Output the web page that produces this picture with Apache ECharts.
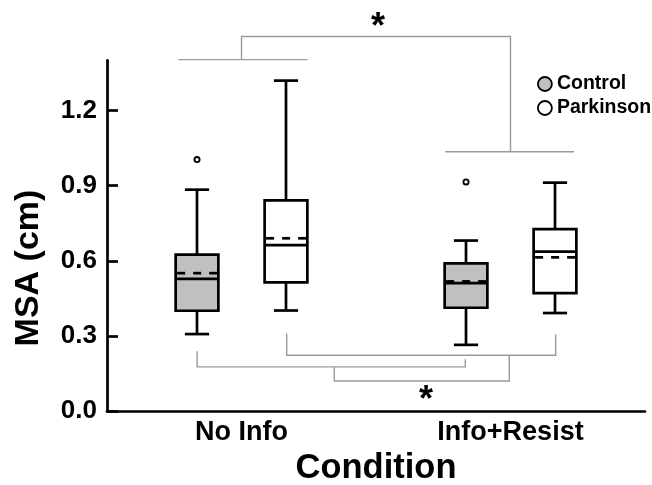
<!DOCTYPE html>
<html>
<head>
<meta charset="utf-8">
<script src="https://cdn.jsdelivr.net/npm/echarts@6/dist/echarts.min.js"></script>
<style>
html,body{margin:0;padding:0;background:#fff;}
#chart{width:652px;height:485px;}
</style>
</head>
<body>
<div id="chart"></div>
<script>
// ---- data ----
const categories = ['No Info', 'Info+Resist'];
const groupNames = ['Control', 'Parkinson'];
const yTicks = [0, 0.3, 0.6, 0.9, 1.2];
// each row: [lowerWhisker, q1, median, q3, upperWhisker, mean]
const controlStats = [
  [0.308, 0.401, 0.528, 0.625, 0.884, 0.551],
  [0.265, 0.413, 0.511, 0.590, 0.681, 0.518]
];
const parkinsonStats = [
  [0.402, 0.514, 0.663, 0.841, 1.319, 0.690],
  [0.392, 0.471, 0.637, 0.727, 0.912, 0.614]
];
const controlOutliers = [1.004, 0.915];
const parkinsonOutliers = [null, null];

// ---- chart ----
const FONT = "'Liberation Sans', Arial, sans-serif";
const chart = echarts.init(document.getElementById('chart'), null, {renderer: 'canvas'});

function boxRender(offset, fill, outliers) {
  return function (params, api) {
    const cat = api.value(0);
    const band = api.size([1, 0])[0];
    const cx = api.coord([cat, 0])[0] + offset * band;
    const hw = 0.0794 * band;
    const cw = 0.045 * band;
    const y = v => api.coord([cat, v])[1];
    const lw = y(api.value(1)), q1 = y(api.value(2)), med = y(api.value(3)),
          q3 = y(api.value(4)), uw = y(api.value(5)), mean = y(api.value(6));
    const line = {stroke: '#000', lineWidth: 2.7};
    const children = [
      {type: 'line', shape: {x1: cx, y1: q3, x2: cx, y2: uw}, style: line},
      {type: 'line', shape: {x1: cx, y1: q1, x2: cx, y2: lw}, style: line},
      {type: 'line', shape: {x1: cx - cw, y1: uw, x2: cx + cw, y2: uw}, style: line},
      {type: 'line', shape: {x1: cx - cw, y1: lw, x2: cx + cw, y2: lw}, style: line},
      {type: 'rect', shape: {x: cx - hw, y: q3, width: 2 * hw, height: q1 - q3},
        style: {fill: fill, stroke: '#000', lineWidth: 2.7}},
      {type: 'line', shape: {x1: cx - hw, y1: med, x2: cx + hw, y2: med}, style: line},
      {type: 'line', shape: {x1: cx - hw + 1.5, y1: mean, x2: cx + hw, y2: mean},
        style: {stroke: '#000', lineWidth: 2.7, lineDash: [8, 8]}}
    ];
    const o = outliers[params.dataIndex];
    if (o != null) {
      children.push({type: 'circle', shape: {cx: cx, cy: y(o), r: 2.6},
        style: {fill: '#fff', stroke: '#000', lineWidth: 1.8}});
    }
    return {type: 'group', children: children};
  };
}

function statsToData(stats) {
  return stats.map((s, i) => [i].concat(s));
}

function bracketRender(params, api) {
  const band = api.size([1, 0])[0];
  const px = (cat, f) => api.coord([cat, 0])[0] + f * band;
  const py = v => api.coord([0, v])[1];
  const st = {stroke: '#9a9a9a', lineWidth: 1.4, fill: null};
  const poly = pts => ({type: 'polyline', shape: {points: pts}, style: st});
  const star = (x, y) => ({type: 'text', x: x, y: y,
    style: {text: '*', font: 'bold 36px ' + FONT, fill: '#000', align: 'center', verticalAlign: 'middle'}});
  return {type: 'group', children: [
    // top: Condition comparison
    poly([[px(0, -0.235), py(1.4025)], [px(0, 0.245), py(1.4025)]]),
    poly([[px(0, 0), py(1.4025)], [px(0, 0), py(1.495)], [px(1, 0), py(1.495)], [px(1, 0), py(1.035)]]),
    poly([[px(1, -0.243), py(1.035)], [px(1, 0.236), py(1.035)]]),
    star(px(0, 0.507), py(1.53)),
    // bottom: Group comparison
    poly([[px(0, -0.165), py(0.2396)], [px(0, -0.165), py(0.177)], [px(1, -0.168), py(0.177)], [px(1, -0.168), py(0.208)]]),
    poly([[px(0, 0.168), py(0.310)], [px(0, 0.168), py(0.2237)], [px(1, 0.168), py(0.2237)], [px(1, 0.168), py(0.306)]]),
    poly([[px(0, 0.345), py(0.177)], [px(0, 0.345), py(0.1207)], [px(1, -0.0045), py(0.1207)], [px(1, -0.0045), py(0.2237)]]),
    star(px(0, 0.686), py(0.04))
  ]};
}

const option = {
  animation: false,
  backgroundColor: '#fff',
  textStyle: {fontFamily: FONT},
  grid: {left: 107, right: 7, top: 60.3, bottom: 73.7, containLabel: false, outerBoundsMode: 'none'},
  legend: {
    orient: 'vertical',
    left: 532, top: 69,
    itemWidth: 14, itemHeight: 14, itemGap: 4,
    textStyle: {fontFamily: FONT, fontWeight: 'bold', fontSize: 19.5, color: '#000', lineHeight: 20},
    data: [
      {name: groupNames[0], icon: 'circle', itemStyle: {color: '#c0c0c0', borderColor: '#000', borderWidth: 1.8}},
      {name: groupNames[1], icon: 'circle', itemStyle: {color: '#fff', borderColor: '#000', borderWidth: 1.8}}
    ]
  },
  xAxis: {
    type: 'category',
    data: categories,
    boundaryGap: true,
    axisLine: {lineStyle: {color: '#000', width: 2.7}},
    axisTick: {show: false},
    axisLabel: {color: '#000', fontFamily: FONT, fontWeight: 'bold', fontSize: 27, margin: 8},
    name: 'Condition',
    nameLocation: 'middle',
    nameGap: 40,
    nameTextStyle: {color: '#000', fontFamily: FONT, fontWeight: 'bold', fontSize: 34.5}
  },
  yAxis: {
    type: 'value',
    min: 0, max: 1.4, interval: 0.3,
    splitLine: {show: false},
    axisLine: {show: true, lineStyle: {color: '#000', width: 2.7}},
    axisTick: {show: true, inside: true, length: 11, lineStyle: {color: '#000', width: 2.7}, customValues: yTicks},
    axisLabel: {color: '#000', fontFamily: FONT, fontWeight: 'bold', fontSize: 26, margin: 10,
      customValues: yTicks, formatter: v => v.toFixed(1)}
  },
  graphic: [{
    type: 'text', x: 29, y: 268, rotation: Math.PI / 2,
    style: {text: 'MSA (cm)', font: 'bold 34px ' + FONT, fill: '#000', align: 'center', verticalAlign: 'middle'}
  }],
  series: [
    {name: groupNames[0], type: 'custom', renderItem: boxRender(-0.1654, '#c0c0c0', controlOutliers),
      encode: {x: 0, y: [1, 5]}, data: statsToData(controlStats), itemStyle: {color: '#c0c0c0'}, z: 3},
    {name: groupNames[1], type: 'custom', renderItem: boxRender(0.1654, '#fff', parkinsonOutliers),
      encode: {x: 0, y: [1, 5]}, data: statsToData(parkinsonStats), itemStyle: {color: '#fff'}, z: 3},
    {name: 'brackets', type: 'custom', renderItem: bracketRender, data: [[0, 0]], silent: true, z: 2}
  ]
};
chart.setOption(option);
</script>
</body>
</html>
